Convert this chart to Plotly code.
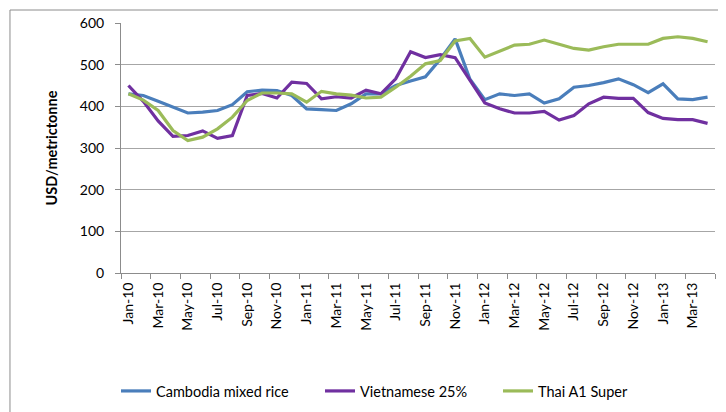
import plotly.graph_objects as go

months = ["Jan", "Feb", "Mar", "Apr", "May", "Jun", "Jul", "Aug", "Sep", "Oct", "Nov", "Dec"]
categories = [f"{m}-{y}" for y in ["10", "11", "12"] for m in months] + ["Jan-13", "Feb-13", "Mar-13", "Apr-13"]

cambodia = [430, 426, 412, 398, 384, 386, 390, 404, 435, 439,
            438, 426, 394, 392, 390, 406, 430, 430, 450, 461,
            471, 513, 562, 465, 416, 430, 426, 430, 408, 418,
            446, 450, 457, 466, 452, 433, 454, 418, 416, 422]
vietnam = [450, 412, 365, 328, 330, 341, 323, 330, 426, 431,
           420, 458, 455, 418, 423, 420, 439, 430, 466, 531,
           517, 524, 517, 462, 408, 394, 384, 384, 388, 367,
           378, 406, 422, 419, 419, 385, 371, 368, 368, 359]
thai = [430, 415, 390, 342, 318, 326, 346, 374, 414, 432,
        432, 430, 410, 436, 430, 427, 420, 422, 446, 472,
        502, 510, 557, 563, 518, 532, 547, 549, 559, 549,
        539, 535, 543, 549, 549, 549, 563, 567, 563, 555]

series_names = ["Cambodia mixed rice", "Vietnamese 25%", "Thai A1 Super"]
series_values = [cambodia, vietnam, thai]
series_colors = ["#4A7EBB", "#7030A0", "#9BBB59"]
legend_ids = ["legend", "legend2", "legend3"]

W, H = 718, 404  # page body has an 8px margin
legend_px = [108, 312, 490]
legend_x = [p / W for p in legend_px]

FONT = "Lato, 'Liberation Sans', sans-serif"
NARROW = "'Liberation Sans Narrow', Lato, sans-serif"
GRID = "#A6A6A6"
AXIS = "#8C8C8C"

fig = go.Figure()
for name, vals, col, lg in zip(series_names, series_values, series_colors, legend_ids):
    fig.add_trace(go.Scatter(x=categories, y=vals, mode="lines", name=name, legend=lg,
                             line=dict(color=col, width=3.2)))

layout_legends = {}
for lg, lx in zip(legend_ids, legend_x):
    layout_legends[lg] = dict(orientation="h", xref="container", yref="container",
                              x=lx, xanchor="left", y=1 - 383 / H, yanchor="middle",
                              font=dict(family=FONT, size=14.5, color="#000000"),
                              itemwidth=30, bgcolor="rgba(0,0,0,0)")

fig.update_layout(
    width=W, height=H,
    margin=dict(l=113, r=11, t=15, b=139, autoexpand=False),
    paper_bgcolor="white", plot_bgcolor="white",
    font=dict(family=FONT, size=13, color="#000000"),
    showlegend=True,
    xaxis=dict(type="category", range=[-0.5, 39.5], tickmode="linear", tick0=0, dtick=2,
               tickson="boundaries", ticks="outside", ticklen=5, tickcolor=AXIS,
               tickangle=-90, showgrid=False, showline=True, linecolor=AXIS, linewidth=1,
               tickfont=dict(family=NARROW, size=14), zeroline=False, ticklabelstandoff=3),
    yaxis=dict(range=[0, 600], dtick=100, tick0=0, showgrid=True, gridcolor=GRID, gridwidth=1,
               ticks="outside", ticklen=5, tickcolor=AXIS, showline=True, linecolor=AXIS,
               linewidth=1, zeroline=False, tickfont=dict(family=FONT, size=14),
               ticklabelstandoff=8,
               title=dict(text="<b>USD/metrictonne</b>", font=dict(family=FONT, size=14.5),
                          standoff=18)),
    shapes=[dict(type="rect", xref="paper", yref="paper", x0=-0.1869, x1=1.5,
                 y0=-1.0, y1=1.052, line=dict(color="#8C8C8C", width=1), layer="below")],
    **layout_legends,
)

fig.write_html("out.html")
